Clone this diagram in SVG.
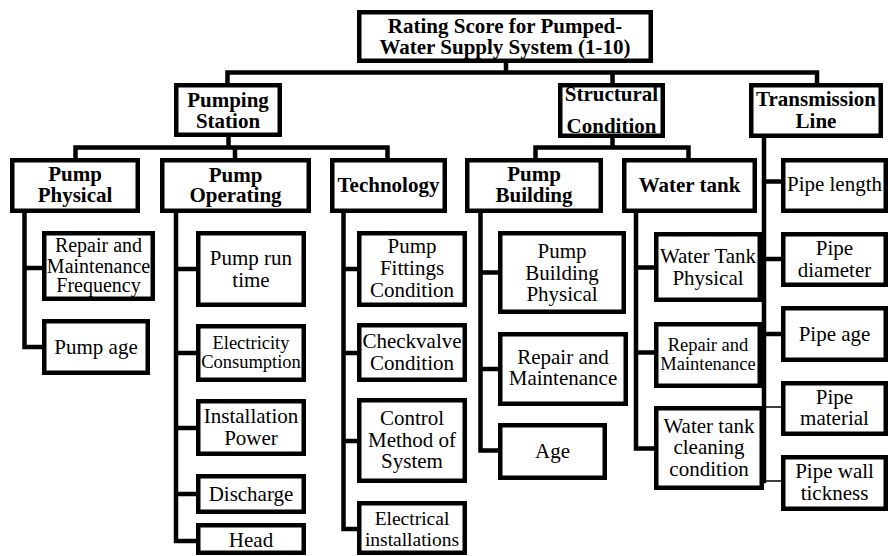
<svg xmlns="http://www.w3.org/2000/svg" width="890" height="556" viewBox="0 0 890 556">
<style>
rect{fill:#fff;stroke:#000;stroke-width:4.5}
.c{fill:none;stroke:#000;stroke-width:4.5;stroke-linecap:square}
.t{fill:none;stroke:#000;stroke-width:1.5}
text{font-family:"Liberation Serif","Times New Roman",serif;font-size:21px;fill:#000;text-anchor:middle}
.b{font-weight:bold}
</style>
<rect x="0" y="0" width="890" height="556" style="fill:#fff;stroke:none"/>
<g id="connectors">
<path class="c" d="M506,63 V72.5 M227.5,72.5 H817 M227.5,72.5 V83 M612.5,72.5 V83 M817,72.5 V83"/>
<path class="c" d="M228.5,137 V147.5 M75.5,147.5 H387.5 M75.5,147.5 V158 M235,147.5 V158 M387.5,147.5 V158"/>
<path class="c" d="M612.5,138 V147.5 M535.5,147.5 H688.5 M535.5,147.5 V158 M688.5,147.5 V158"/>
<path class="c" d="M24.5,213 V347 M24.5,268 H42 M24.5,347 H42"/>
<path class="c" d="M176,213 V541 M176,269 H196 M176,353 H196 M176,428 H196 M176,494 H196 M176,541 H196"/>
<path class="c" d="M343.5,213 V529 M343.5,269 H357 M343.5,353 H357 M343.5,441 H357 M343.5,529 H357"/>
<path class="c" d="M480.5,213 V450.5 M480.5,272.5 H498 M480.5,369 H498 M480.5,450.5 H498"/>
<path class="c" d="M636,213 V448.5 M636,267.5 H654 M636,352.5 H654 M636,448.5 H654"/>
<path class="c" d="M764,138 V481 M764,181.5 H781 M764,259 H781 M764,334 H781"/>
<path class="t" d="M764,407 H781 M764,481 H781"/>
</g>
<g id="root"><rect x="359.25" y="12.25" width="291.5" height="48.5"/><text class="b"><tspan x="505" y="33">Rating Score for Pumped-</tspan><tspan x="505" y="54">Water Supply System (1-10)</tspan></text></g>
<g id="pumping-station"><rect x="176.25" y="85.25" width="103.5" height="49.5"/><text class="b"><tspan x="228" y="107">Pumping</tspan><tspan x="228" y="128">Station</tspan></text></g>
<g id="structural-condition"><rect x="560.25" y="85.25" width="102.5" height="50.5"/><text class="b"><tspan x="611.5" y="101">Structural</tspan><tspan x="611.5" y="133">Condition</tspan></text></g>
<g id="transmission-line"><rect x="751.25" y="85.25" width="129.5" height="50.5"/><text class="b"><tspan x="816" y="106">Transmission</tspan><tspan x="816" y="128">Line</tspan></text></g>
<g id="pump-physical"><rect x="12.25" y="160.25" width="125.5" height="50.5"/><text class="b"><tspan x="75" y="181">Pump</tspan><tspan x="75" y="202">Physical</tspan></text></g>
<g id="pump-operating"><rect x="162.25" y="160.25" width="146.5" height="50.5"/><text class="b"><tspan x="235.5" y="181.5">Pump</tspan><tspan x="235.5" y="202">Operating</tspan></text></g>
<g id="technology"><rect x="332.25" y="160.25" width="112.5" height="50.5"/><text class="b" x="388.5" y="192">Technology</text></g>
<g id="pump-building"><rect x="467.25" y="160.25" width="133.5" height="50.5"/><text class="b"><tspan x="534" y="181">Pump</tspan><tspan x="534" y="202">Building</tspan></text></g>
<g id="water-tank"><rect x="624.25" y="160.25" width="130.5" height="50.5"/><text class="b" x="689.5" y="192">Water tank</text></g>
<g id="pipe-length"><rect x="783.25" y="160.25" width="102.5" height="50.5"/><text x="834.5" y="190.5">Pipe length</text></g>
<g id="repair-maintenance-frequency"><rect x="44.25" y="233.25" width="108.5" height="65.5"/><text style="font-size:20px"><tspan x="98.5" y="252">Repair and</tspan><tspan x="98.5" y="272.5">Maintenance</tspan><tspan x="98.5" y="292">Frequency</tspan></text></g>
<g id="pump-age"><rect x="44.25" y="321.25" width="103.5" height="51.5"/><text x="96" y="353.5">Pump age</text></g>
<g id="pump-run-time"><rect x="198.25" y="233.25" width="105.5" height="71.5"/><text><tspan x="251" y="265">Pump run</tspan><tspan x="251" y="286.5">time</tspan></text></g>
<g id="electricity-consumption"><rect x="198.25" y="326.25" width="105.5" height="53.5"/><text style="font-size:18.5px"><tspan x="251" y="349">Electricity</tspan><tspan x="251" y="367.5">Consumption</tspan></text></g>
<g id="installation-power"><rect x="198.25" y="401.25" width="105.5" height="52.5"/><text><tspan x="251" y="423">Installation</tspan><tspan x="251" y="445">Power</tspan></text></g>
<g id="discharge"><rect x="198.25" y="476.25" width="105.5" height="35.5"/><text x="251" y="500.5">Discharge</text></g>
<g id="head"><rect x="198.25" y="525.25" width="105.5" height="27.5"/><text x="251" y="546.5">Head</text></g>
<g id="pump-fittings-condition"><rect x="359.25" y="233.25" width="105.5" height="71.5"/><text><tspan x="412" y="253">Pump</tspan><tspan x="412" y="275">Fittings</tspan><tspan x="412" y="296.5">Condition</tspan></text></g>
<g id="checkvalve-condition"><rect x="359.25" y="325.25" width="105.5" height="54.5"/><text><tspan x="412" y="348">Checkvalve</tspan><tspan x="412" y="370">Condition</tspan></text></g>
<g id="control-method"><rect x="359.25" y="400.25" width="105.5" height="80.5"/><text><tspan x="412" y="425">Control</tspan><tspan x="412" y="446.5">Method of</tspan><tspan x="412" y="468">System</tspan></text></g>
<g id="electrical-installations"><rect x="359.25" y="503.25" width="105.5" height="49.5"/><text style="font-size:19.5px"><tspan x="412" y="525">Electrical</tspan><tspan x="412" y="546">installations</tspan></text></g>
<g id="pump-building-physical"><rect x="500.25" y="233.25" width="123.5" height="78.5"/><text><tspan x="562" y="258">Pump</tspan><tspan x="562" y="280">Building</tspan><tspan x="562" y="300.5">Physical</tspan></text></g>
<g id="pb-repair-maintenance"><rect x="500.25" y="334.25" width="125.5" height="69.5"/><text><tspan x="563" y="364">Repair and</tspan><tspan x="563" y="385">Maintenance</tspan></text></g>
<g id="age"><rect x="500.25" y="425.25" width="104.5" height="52.5"/><text x="552.5" y="458">Age</text></g>
<g id="water-tank-physical"><rect x="656.25" y="234.25" width="103.5" height="65.5"/><text><tspan x="708" y="263">Water Tank</tspan><tspan x="708" y="285">Physical</tspan></text></g>
<g id="wt-repair-maintenance"><rect x="656.25" y="324.25" width="103.5" height="61.5"/><text style="font-size:18.5px"><tspan x="708" y="350.5">Repair and</tspan><tspan x="708" y="369.5">Maintenance</tspan></text></g>
<g id="water-tank-cleaning"><rect x="656.25" y="408.25" width="105.5" height="79.5"/><text><tspan x="709" y="433">Water tank</tspan><tspan x="709" y="453.5">cleaning</tspan><tspan x="709" y="476">condition</tspan></text></g>
<g id="pipe-diameter"><rect x="783.25" y="234.25" width="102.5" height="50.5"/><text><tspan x="834.5" y="255">Pipe</tspan><tspan x="834.5" y="276.5">diameter</tspan></text></g>
<g id="pipe-age"><rect x="783.25" y="308.25" width="102.5" height="51.5"/><text x="834.5" y="340.5">Pipe age</text></g>
<g id="pipe-material"><rect x="783.25" y="383.25" width="102.5" height="50.5"/><text><tspan x="834.5" y="403.5">Pipe</tspan><tspan x="834.5" y="425">material</tspan></text></g>
<g id="pipe-wall-tickness"><rect x="783.25" y="457.25" width="102.5" height="51.5"/><text><tspan x="834.5" y="478">Pipe wall</tspan><tspan x="834.5" y="500">tickness</tspan></text></g>
</svg>
